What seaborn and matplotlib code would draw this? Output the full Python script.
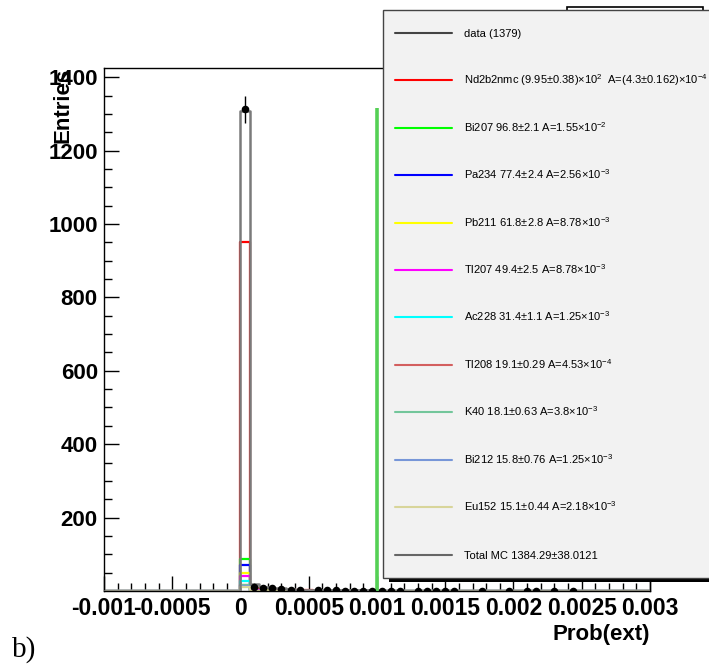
import numpy as np
import pandas as pd
import matplotlib
matplotlib.use("Agg")
import matplotlib.pyplot as plt
import seaborn as sns
from matplotlib.lines import Line2D
from matplotlib.patches import Rectangle

# ---------------- data ----------------
x_min, x_max, n_bins = -0.001, 0.003, 60
first_filled_bin = 15          # bins below 0 are empty

data_counts = [1312, 11, 9, 7, 6, 4, 3, 0, 3, 3, 3, 1, 1, 1, 1, 1, 1, 1, 0, 1,
               1, 1, 1, 1, 0, 0, 1, 0, 0, 1, 0, 1, 1, 0, 1, 0, 1, 0, 0, 0,
               0, 0, 0, 0, 0]

total_mc = [1307, 20, 12, 9, 7, 5, 4, 3.5, 3, 2.5, 2.2, 2, 1.8, 1.6, 1.4, 1.2,
            1.1, 1.0, 0.9, 0.8, 0.7, 0.6, 0.6, 0.5, 0.5, 0.4, 0.4, 0.3, 0.3,
            0.3, 0.2, 0.2, 0.2, 0.2, 0.1, 0.1, 0.1, 0.1, 0.1, 0.1, 0, 0, 0, 0, 0]

nd2b2nmc = [951, 8, 6, 4.5, 3.5, 2.5, 2, 1.6, 1.3, 1.1, 0.9, 0.8, 0.7, 0.6,
            0.5, 0.4, 0.4, 0.3, 0.3, 0.2]
bi207 = [88, 2, 1.2, 0.8, 0.6, 0.5, 0.4, 0.3]
pa234 = [70, 1.5, 1, 0.7, 0.5, 0.4]
pb211 = [50, 2.5, 1.5, 1, 0.8, 0.6, 0.5]
tl207 = [40, 2, 1.2, 0.9, 0.7, 0.5]
ac228 = [26, 1, 0.6, 0.4, 0.3]
tl208 = [17, 0.5, 0.3, 0.2]
k40 = [15, 0.6, 0.4, 0.3]
bi212 = [13, 0.5, 0.3, 0.2]
eu152 = [12, 0.6, 0.4, 0.3]

components = [nd2b2nmc, bi207, pa234, pb211, tl207, ac228, tl208, k40, bi212, eu152]
component_colors = ["#ff0000", "#00ff00", "#0000ff", "#ffff00", "#ff00ff",
                    "#00ffff", "#d35f5f", "#73c69b", "#7796d8", "#d8d59a"]
total_color = "#7a7a7a"
data_color = "#000000"

cut_x = 0.001
cut_height = 1316
cut_color = "#55d055"

legend_labels = [
    "data (1379)",
    "Nd2b2nmc (9.95±0.38)×10$^{2}$  A=(4.3±0.162)×10$^{-4}$",
    "Bi207 96.8±2.1 A=1.55×10$^{-2}$",
    "Pa234 77.4±2.4 A=2.56×10$^{-3}$",
    "Pb211 61.8±2.8 A=8.78×10$^{-3}$",
    "Tl207 49.4±2.5 A=8.78×10$^{-3}$",
    "Ac228 31.4±1.1 A=1.25×10$^{-3}$",
    "Tl208 19.1±0.29 A=4.53×10$^{-4}$",
    "K40 18.1±0.63 A=3.8×10$^{-3}$",
    "Bi212 15.8±0.76 A=1.25×10$^{-3}$",
    "Eu152 15.1±0.44 A=2.18×10$^{-3}$",
    "Total MC 1384.29±38.0121",
]
legend_colors = ["#444444"] + component_colors + ["#666666"]

x_ticks = [-0.001, -0.0005, 0, 0.0005, 0.001, 0.0015, 0.002, 0.0025, 0.003]
x_tick_labels = ["-0.001", "-0.0005", "0", "0.0005", "0.001", "0.0015",
                 "0.002", "0.0025", "0.003"]
y_ticks = [200, 400, 600, 800, 1000, 1200, 1400]
y_max = 1425

# ---------------- style ----------------
sns.set_style("ticks")
plt.rcParams["font.family"] = ["Liberation Sans", "DejaVu Sans"]
plt.rcParams["mathtext.fontset"] = "custom"
plt.rcParams["mathtext.rm"] = "Liberation Sans"
plt.rcParams["mathtext.it"] = "Liberation Sans:italic"
plt.rcParams["mathtext.bf"] = "Liberation Sans:bold"
plt.rcParams["text.color"] = "black"
plt.rcParams["axes.labelcolor"] = "black"
plt.rcParams["xtick.color"] = "black"
plt.rcParams["ytick.color"] = "black"
plt.rcParams["xtick.labelcolor"] = "black"
plt.rcParams["ytick.labelcolor"] = "black"

W, H = 709, 666
fig = plt.figure(figsize=(W / 100, H / 100), dpi=100)
fig.patch.set_facecolor("white")
ax = fig.add_axes([104 / W, 1 - 591 / H, 546 / W, 523 / H])

edges = np.linspace(x_min, x_max, n_bins + 1)
bw = edges[1] - edges[0]


def centers_for(values):
    idx = np.arange(len(values)) + first_filled_bin
    return edges[idx] + bw / 2


def draw_hist(values, color, lw=1.6, z=2):
    df = pd.DataFrame({"x": centers_for(values), "w": values})
    sns.histplot(data=df, x="x", weights="w", bins=n_bins,
                 binrange=(x_min, x_max), element="step",
                 fill=False, color=color, linewidth=lw, ax=ax, zorder=z)


for vals, col in zip(components, component_colors):
    draw_hist(vals, col)
draw_hist(total_mc, total_color, lw=1.8, z=3)

# cut line
ax.vlines(cut_x, 0, cut_height, color=cut_color, linewidth=2.6, zorder=4)

# data points with errors
dc = np.array(data_counts, dtype=float)
dx = centers_for(data_counts)
mask = dc > 0
ddf = pd.DataFrame({"x": dx[mask], "y": dc[mask]})
ax.errorbar(ddf["x"], ddf["y"], yerr=np.sqrt(ddf["y"]), fmt="none",
            ecolor=data_color, elinewidth=1, capsize=0, zorder=5)
sns.scatterplot(data=ddf, x="x", y="y", color=data_color, s=30,
                edgecolor=data_color, linewidth=0, ax=ax, zorder=6)

# axes
ax.set_xlim(x_min, x_max)
ax.set_ylim(0, y_max)
ax.set_xticks(x_ticks)
ax.set_xticklabels(x_tick_labels)
ax.set_yticks(y_ticks)
ax.set_xticks(np.arange(-0.001, 0.00301, 0.0001), minor=True)
ax.set_yticks(np.arange(50, 1425, 50), minor=True)
ax.tick_params(axis="both", which="major", direction="in", length=10.5,
               width=1, top=False, right=False, color="black",
               labelcolor="black")
ax.tick_params(axis="both", which="minor", direction="in", length=5.5,
               width=1, top=False, right=False, color="black")
ax.tick_params(axis="x", pad=4.5, labelsize=16.5)
ax.tick_params(axis="y", pad=4.5, labelsize=16)
for lab in ax.get_xticklabels() + ax.get_yticklabels():
    lab.set_fontweight("bold")
for sp in ax.spines.values():
    sp.set_visible(True)
    sp.set_color("black")
    sp.set_linewidth(1)

ax.set_ylabel("Entries", fontsize=16, fontweight="bold", loc="top",
              color="black")
ax.yaxis.set_label_coords(-0.056, 1.0)
ax.set_xlabel("Prob(ext)", fontsize=16, fontweight="bold", loc="right",
              color="black")
ax.xaxis.set_label_coords(1.0, -0.064)
ax.xaxis.label.set_verticalalignment("top")


# ---------------- legend (ROOT style box) ----------------
def fx(px):
    return px / W


def fy(py):
    return 1 - py / H


# stats box peeking behind
fig.add_artist(Rectangle((fx(567), fy(40)), fx(703) - fx(567), fy(7) - fy(40),
                         transform=fig.transFigure, facecolor="white",
                         edgecolor="black", linewidth=1.2, zorder=1))
# shadow
fig.add_artist(Rectangle((fx(389), fy(582)), fx(760) - fx(389), fy(16) - fy(582),
                         transform=fig.transFigure, facecolor="black",
                         edgecolor="none", zorder=2))
# box
fig.add_artist(Rectangle((fx(383), fy(578)), fx(760) - fx(383), fy(10) - fy(578),
                         transform=fig.transFigure, facecolor="#f2f2f2",
                         edgecolor="#444444", linewidth=1, zorder=3))

entry_y = np.linspace(32.7, 554.7, len(legend_labels))
for yy, lab, col in zip(entry_y, legend_labels, legend_colors):
    fig.add_artist(Line2D([fx(395), fx(452)], [fy(yy), fy(yy)],
                          transform=fig.transFigure, color=col,
                          linewidth=1.5, zorder=4))
    fig.text(fx(464), fy(yy + 4), lab, fontsize=8, va="baseline", ha="left",
             color="black", zorder=5)

fig.text(fx(12), fy(657), "b)", fontsize=21, family="Liberation Serif",
         va="baseline", ha="left", color="black")

fig.savefig("out.png", dpi=100)
